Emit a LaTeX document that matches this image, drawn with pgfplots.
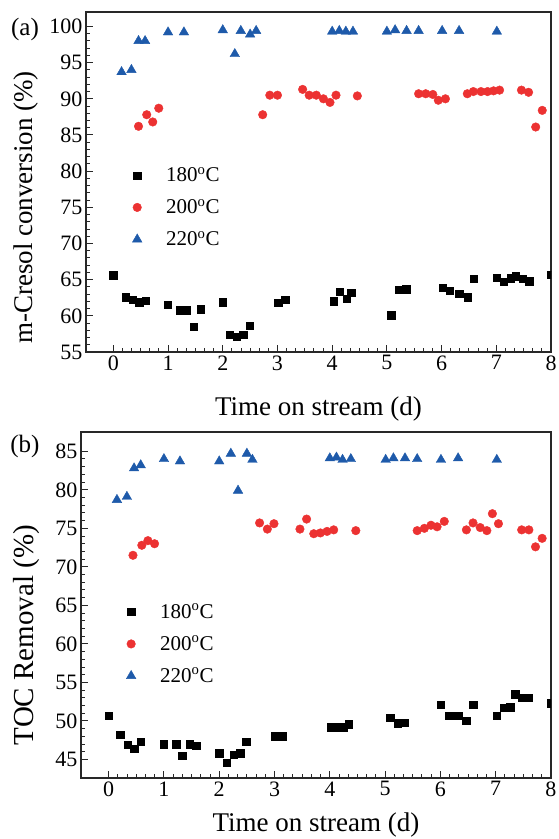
\documentclass[border=0pt]{standalone}
\usepackage{fontspec}
\setmainfont{Liberation Serif}
\newfontfamily\tnr{Liberation Serif}
\usepackage{pgfplots}
\pgfplotsset{compat=1.18}
\definecolor{myred}{RGB}{236,50,50}
\definecolor{myblue}{RGB}{30,90,170}
\definecolor{spine}{RGB}{40,40,40}
\pgfplotsset{
 mystyle/.style={
  scale only axis, xmin=-0.5, xmax=8, xtick={0,...,8}, minor x tick num=5, minor y tick num=4,
  tick align=inside, xtick pos=bottom, ytick pos=left,
  major tick length=7pt, minor tick length=4pt,
  axis line style={spine, line width=1.3pt}, every tick/.style={spine, line width=1pt},
  tick label style={font=\tnr\fontsize{22}{22}\selectfont},
  /pgf/number format/assume math mode=true,
  clip marker paths=true,
  legend style={draw=none, fill=none, font=\tnr\fontsize{21}{21}\selectfont, row sep=12pt},
  legend cell align=left,
  legend image code/.code={\path[draw=none,fill=none] (-15pt,0pt) -- (27pt,0pt); \draw[##1, only marks] plot coordinates {(0pt,0pt)};},
 },
 s180/.style={only marks, mark=square*, mark size=3.7pt, color=black},
 s200/.style={only marks, mark=*, mark size=4.3pt, color=myred},
 s220/.style={only marks, mark=triangle*, mark size=5.5pt, color=myblue},
}
\begin{document}
\begin{tikzpicture}[x=1pt,y=1pt]
\path[use as bounding box] (0,0) rectangle (558,839);
% ---------- (a) ----------
\begin{axis}[mystyle, at={(86pt,487pt)}, anchor=south west,
  width=465pt, height=340pt, ymin=55, ymax=102, ytick={55,60,...,100},
  xlabel={Time on stream (d)},
  xlabel style={font=\tnr\fontsize{27}{27}\selectfont, at={(axis description cs:0.5,-0.188)}, anchor=base},
  ylabel={m-Cresol conversion (\%)},
  ylabel style={font=\tnr\fontsize{27}{27}\selectfont, at={(axis description cs:-0.114,0.425)}, anchor=base},
  legend style={at={(axis description cs:0.071,0.555)}, anchor=north west}]
\addplot[s180] coordinates {(0,65.6) (0.23,62.6) (0.35,62.2) (0.47,61.9) (0.59,62.1) (0.99,61.5) (1.22,60.8) (1.34,60.8) (1.47,58.5) (1.60,60.9) (2.0,61.9) (2.13,57.4) (2.25,57.1) (2.37,57.4) (2.49,58.6) (3.01,61.8) (3.14,62.2) (4.03,62.0) (4.14,63.3) (4.26,62.4) (4.35,63.2) (5.08,60.1) (5.22,63.6) (5.35,63.7) (6.02,63.9) (6.15,63.5) (6.32,63.1) (6.48,62.6) (6.59,65.1) (7.01,65.3) (7.14,64.7) (7.26,65.2) (7.36,65.5) (7.48,65.1) (7.60,64.8) (8.0,65.7)};
\addlegendentry{180$^\mathrm{o}$C}
\addplot[s200] coordinates {(0.46,86.2) (0.61,87.8) (0.72,86.8) (0.83,88.7) (2.73,87.8) (2.86,90.5) (3.0,90.5) (3.46,91.3) (3.58,90.5) (3.71,90.5) (3.84,90.0) (3.96,89.5) (4.07,90.5) (4.46,90.4) (5.58,90.7) (5.71,90.7) (5.84,90.6) (5.94,89.8) (6.07,90.0) (6.47,90.7) (6.58,91.0) (6.72,91.0) (6.84,91.0) (6.95,91.1) (7.06,91.2) (7.46,91.2) (7.59,90.9) (7.72,86.1) (7.84,88.4)};
\addlegendentry{200$^\mathrm{o}$C}
\addplot[s220] coordinates {(0.15,93.7) (0.33,94.0) (0.46,98.0) (0.58,98.0) (1.0,99.2) (1.29,99.2) (2.0,99.5) (2.22,96.2) (2.33,99.4) (2.50,98.9) (2.61,99.4) (4.0,99.3) (4.13,99.4) (4.25,99.3) (4.38,99.3) (5.0,99.3) (5.15,99.5) (5.36,99.4) (5.58,99.4) (6.01,99.4) (6.32,99.4) (7.01,99.3)};
\addlegendentry{220$^\mathrm{o}$C}
\end{axis}
% ---------- (b) ----------
\begin{axis}[mystyle, at={(81pt,61pt)}, anchor=south west,
  width=470pt, height=346pt, ymin=42.6, ymax=87.5, ytick={45,50,...,85},
  xlabel={Time on stream (d)},
  xlabel style={font=\tnr\fontsize{27}{27}\selectfont, at={(axis description cs:0.5,-0.156)}, anchor=base},
  ylabel={TOC Removal (\%)},
  ylabel style={font=\tnr\fontsize{29}{29}\selectfont, at={(axis description cs:-0.102,0.413)}, anchor=base},
  legend style={at={(axis description cs:0.068,0.515)}, anchor=north west}]
\addplot[s180] coordinates {(0,50.7) (0.21,48.2) (0.34,46.9) (0.46,46.4) (0.58,47.3) (1.0,47.0) (1.22,47.0) (1.33,45.5) (1.47,47.0) (1.58,46.8) (2.0,45.8) (2.13,44.6) (2.26,45.6) (2.38,45.8) (2.49,47.3) (3.0,48.0) (3.14,48.0) (4.02,49.2) (4.13,49.2) (4.24,49.2) (4.34,49.6) (5.09,50.4) (5.23,49.7) (5.35,49.8) (6.01,52.1) (6.16,50.7) (6.32,50.7) (6.47,50.0) (6.59,52.1) (7.02,50.7) (7.14,51.7) (7.26,51.8) (7.35,53.5) (7.48,53.0) (7.60,53.0) (8.0,52.3)};
\addlegendentry{180$^\mathrm{o}$C}
\addplot[s200] coordinates {(0.44,71.5) (0.60,72.8) (0.71,73.4) (0.83,73.0) (2.73,75.7) (2.87,74.9) (2.99,75.6) (3.46,74.9) (3.58,76.2) (3.71,74.3) (3.83,74.4) (3.95,74.6) (4.07,74.8) (4.47,74.7) (5.58,74.7) (5.71,75.0) (5.83,75.4) (5.94,75.2) (6.07,75.9) (6.47,74.8) (6.59,75.7) (6.72,75.1) (6.84,74.7) (6.94,76.9) (7.05,75.6) (7.47,74.8) (7.60,74.8) (7.72,72.6) (7.84,73.7)};
\addlegendentry{200$^\mathrm{o}$C}
\addplot[s220] coordinates {(0.15,78.7) (0.33,79.1) (0.46,82.8) (0.58,83.2) (1.0,84.0) (1.29,83.7) (2.0,83.7) (2.21,84.7) (2.34,79.9) (2.50,84.7) (2.60,83.9) (4.0,84.1) (4.12,84.2) (4.23,83.9) (4.38,84.0) (5.01,83.9) (5.15,84.1) (5.36,84.1) (5.58,84.0) (6.01,83.9) (6.32,84.1) (7.02,83.9)};
\addlegendentry{220$^\mathrm{o}$C}
\end{axis}
\node[font=\tnr\fontsize{25}{25}\selectfont] at (25,810) {(a)};
\node[font=\tnr\fontsize{25}{25}\selectfont] at (25,393) {(b)};
\end{tikzpicture}
\end{document}
